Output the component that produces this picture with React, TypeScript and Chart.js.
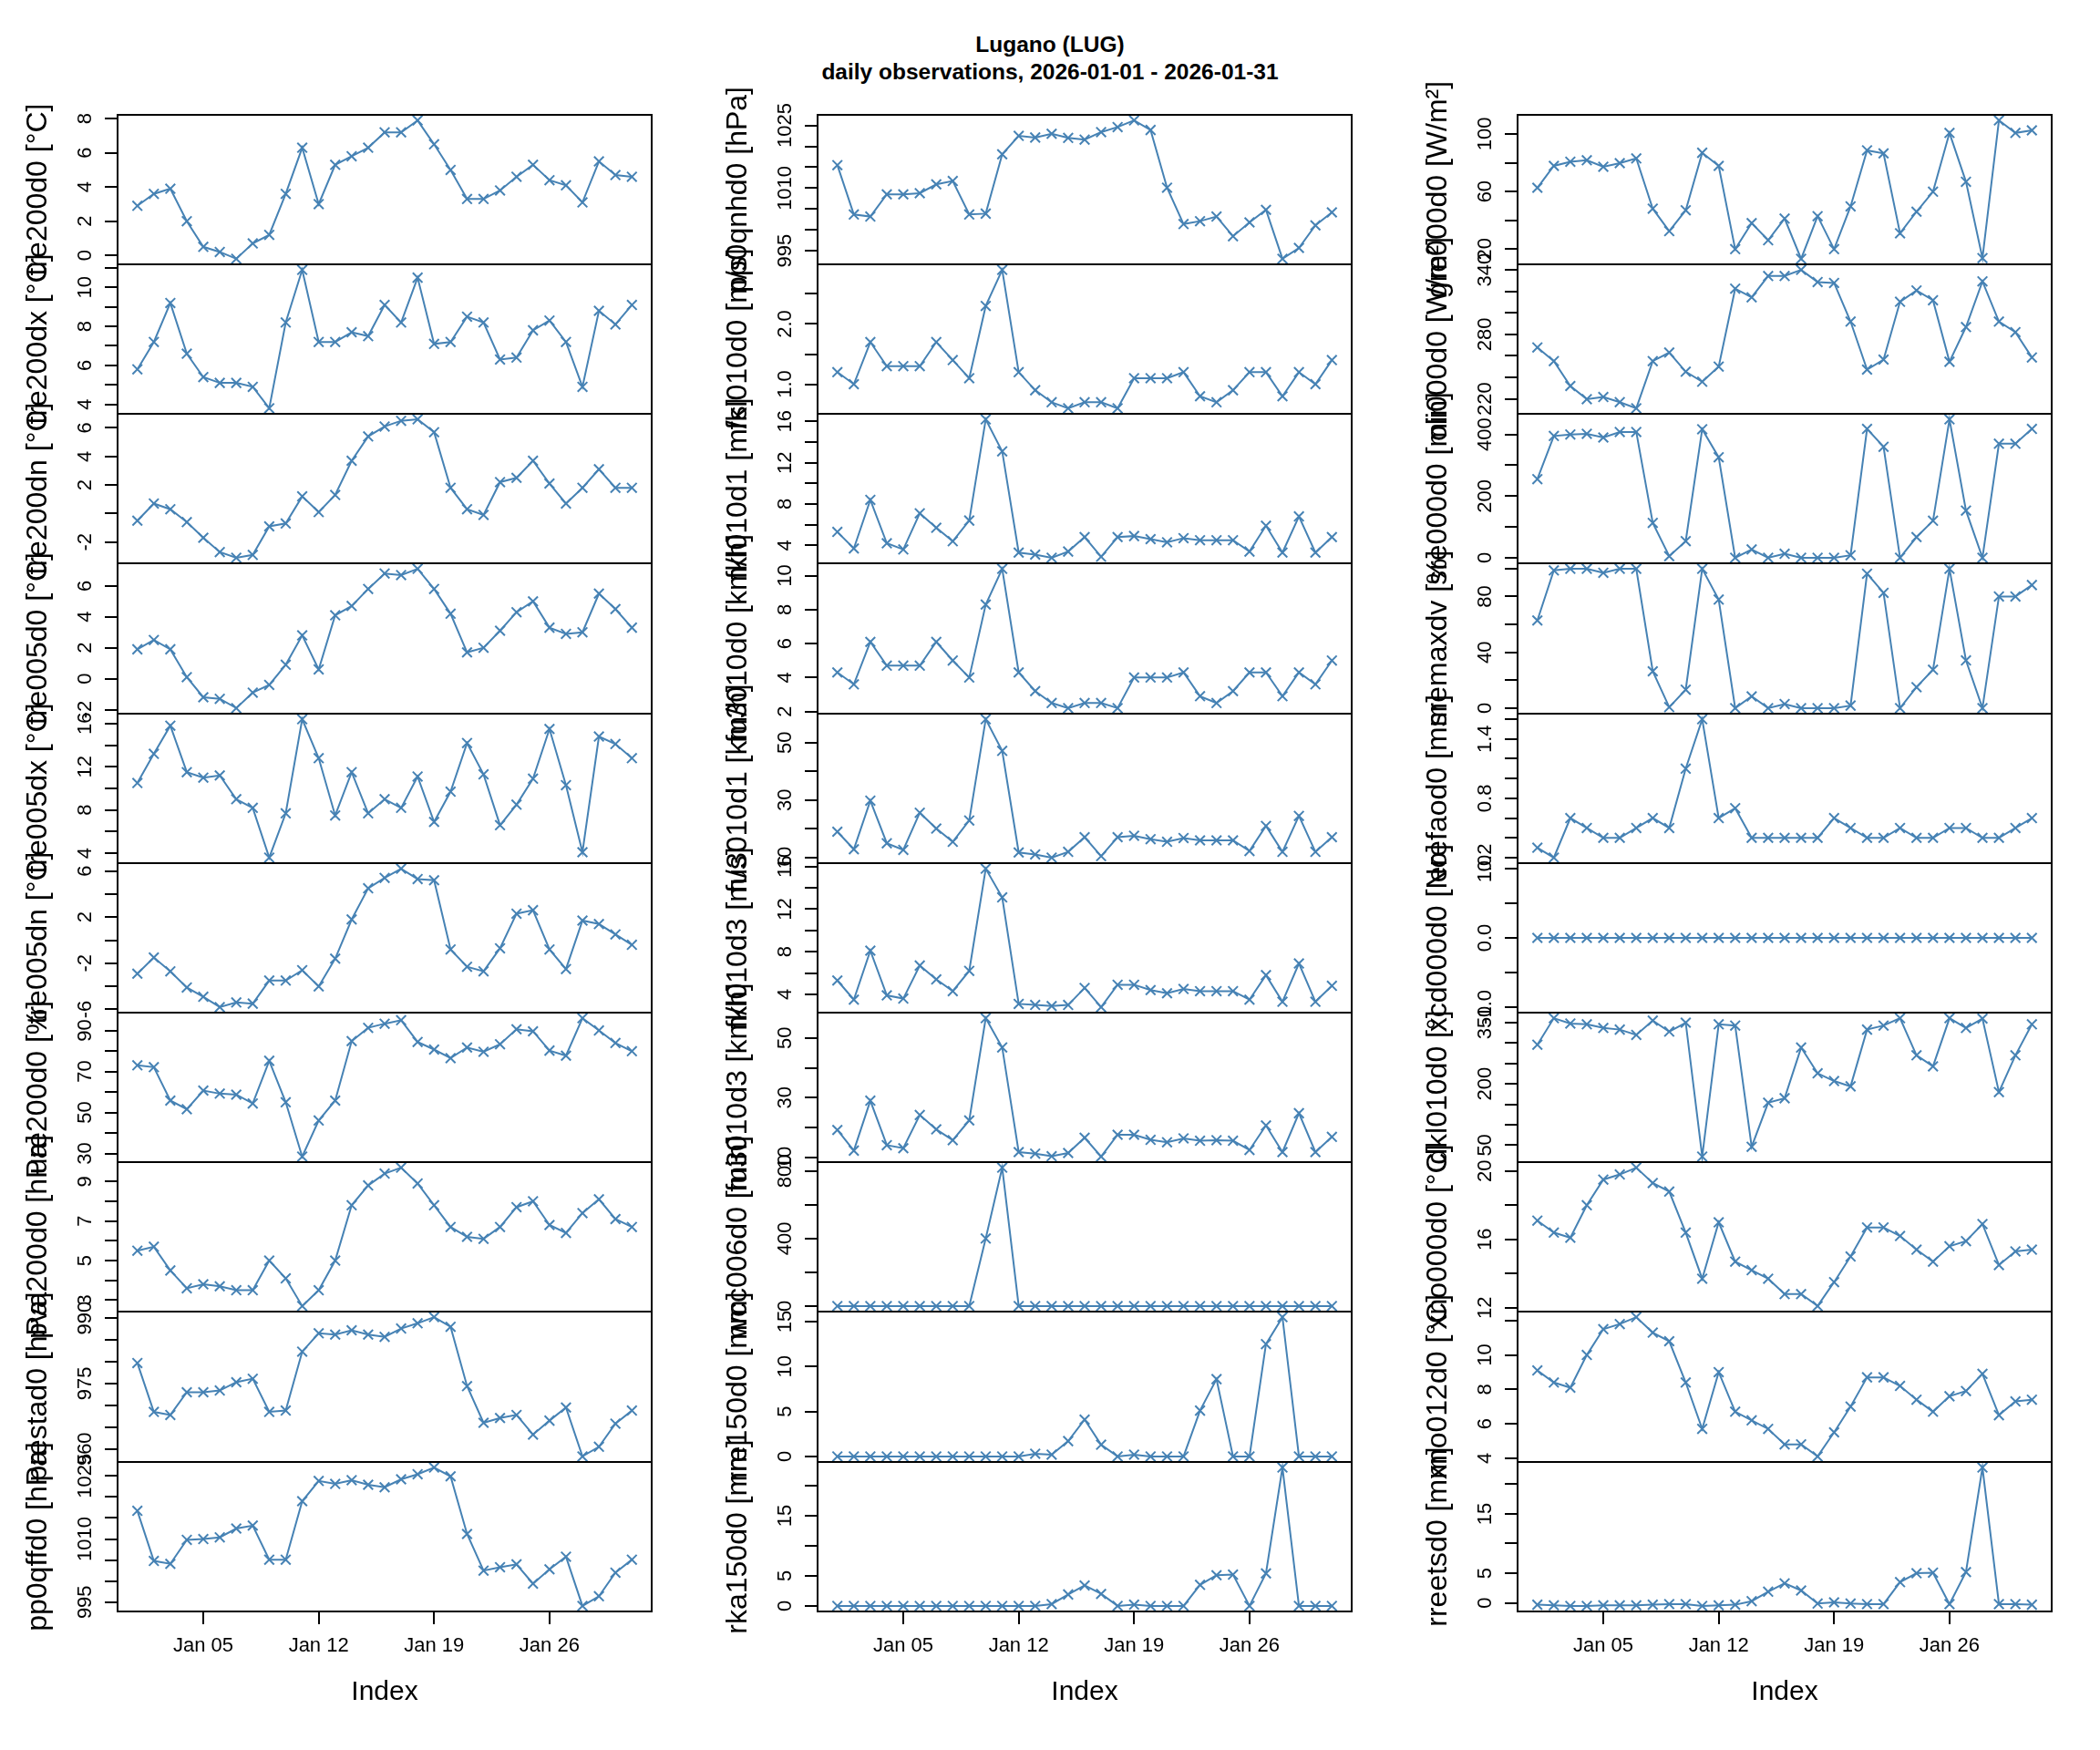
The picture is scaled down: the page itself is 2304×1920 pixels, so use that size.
import React, { useEffect, useRef } from "react";
import { Chart, registerables } from "chart.js";

Chart.register(...registerables);

const FONT = "'Liberation Sans', Arial, Helvetica, sans-serif";
const BLUE = "#4682B4";

// ---- categories (dates) ----
const DATES: string[] = [];
for (let d = 1; d <= 31; d++) DATES.push(`2026-01-${String(d).padStart(2, "0")}`);
const DAY_NUM = DATES.map((s) => Number(s.slice(8, 10)));
const X_TICKS = [5, 12, 19, 26];
const X_TICK_LABELS = ["Jan 05", "Jan 12", "Jan 19", "Jan 26"];

// ---- column 1 series ----
const tre200d0 = [2.9, 3.6, 3.9, 2.0, 0.5, 0.2, -0.2, 0.7, 1.2, 3.6, 6.3, 3.0, 5.3, 5.8, 6.3, 7.2, 7.2, 7.9, 6.5, 5.0, 3.3, 3.3, 3.8, 4.6, 5.3, 4.4, 4.1, 3.1, 5.5, 4.7, 4.6];
const tre200dx = [5.8, 7.2, 9.2, 6.6, 5.4, 5.1, 5.1, 4.9, 3.8, 8.2, 10.9, 7.2, 7.2, 7.7, 7.5, 9.1, 8.2, 10.5, 7.1, 7.2, 8.5, 8.2, 6.3, 6.4, 7.8, 8.3, 7.2, 4.9, 8.8, 8.1, 9.1];
const tre200dn = [-0.5, 0.7, 0.3, -0.6, -1.7, -2.7, -3.1, -2.9, -0.9, -0.7, 1.2, 0.1, 1.3, 3.7, 5.4, 6.1, 6.5, 6.6, 5.7, 1.8, 0.3, -0.1, 2.2, 2.5, 3.7, 2.1, 0.7, 1.8, 3.1, 1.8, 1.8];
const tre005d0 = [1.9, 2.5, 1.9, 0.1, -1.2, -1.3, -1.9, -0.9, -0.4, 0.9, 2.8, 0.6, 4.1, 4.7, 5.8, 6.8, 6.7, 7.1, 5.8, 4.2, 1.7, 2.0, 3.1, 4.3, 5.0, 3.3, 2.9, 3.0, 5.5, 4.5, 3.3];
const tre005dx = [10.5, 13.2, 15.8, 11.5, 11.0, 11.2, 9.0, 8.2, 3.6, 7.7, 16.4, 12.8, 7.5, 11.5, 7.7, 9.0, 8.2, 11.1, 6.9, 9.7, 14.2, 11.3, 6.6, 8.5, 10.9, 15.5, 10.3, 4.1, 14.8, 14.1, 12.8];
const tre005dn = [-2.9, -1.5, -2.7, -4.1, -4.9, -5.8, -5.4, -5.5, -3.5, -3.5, -2.6, -4.0, -1.6, 1.8, 4.5, 5.4, 6.2, 5.3, 5.2, -0.8, -2.3, -2.7, -0.7, 2.3, 2.6, -0.8, -2.5, 1.7, 1.4, 0.5, -0.4];
const ure200d0 = [73.0, 72.1, 55.8, 51.6, 60.7, 59.2, 58.7, 54.4, 75.2, 55.0, 28.5, 46.1, 55.8, 84.8, 91.3, 93.3, 95.0, 84.4, 80.7, 76.5, 81.7, 79.6, 83.3, 90.6, 89.6, 80.2, 77.7, 96.0, 90.0, 83.9, 79.9];
const pva200d0 = [5.5, 5.7, 4.5, 3.6, 3.8, 3.7, 3.5, 3.5, 5.0, 4.1, 2.7, 3.5, 5.0, 7.8, 8.8, 9.4, 9.7, 8.9, 7.8, 6.7, 6.2, 6.1, 6.7, 7.7, 8.0, 6.8, 6.4, 7.4, 8.1, 7.1, 6.7];
const prestad0 = [979.7, 968.5, 967.8, 973.0, 973.0, 973.4, 975.3, 976.1, 968.5, 968.8, 982.3, 986.5, 986.2, 987.2, 986.2, 985.7, 987.6, 988.8, 990.2, 988.0, 974.4, 966.0, 967.1, 967.8, 963.3, 966.5, 969.5, 958.3, 960.5, 965.8, 968.8];
const pp0qffd0 = [1016.7, 1004.8, 1004.1, 1009.8, 1010.0, 1010.4, 1012.5, 1013.2, 1005.1, 1005.1, 1019.0, 1023.8, 1023.1, 1024.0, 1022.9, 1022.3, 1024.2, 1025.4, 1027.0, 1024.9, 1011.2, 1002.5, 1003.3, 1004.0, 999.4, 1002.8, 1005.8, 994.1, 996.4, 1002.0, 1005.1];

// ---- column 2 series ----
const pp0qnhd0 = [1015.5, 1003.7, 1003.2, 1008.5, 1008.5, 1008.8, 1010.9, 1011.7, 1003.7, 1003.9, 1018.1, 1022.5, 1022.1, 1023.0, 1022.0, 1021.6, 1023.4, 1024.6, 1026.2, 1023.9, 1010.1, 1001.4, 1002.1, 1003.2, 998.5, 1001.8, 1004.8, 993.1, 995.7, 1001.1, 1004.2];
const fkl010d0 = [1.2, 1.0, 1.7, 1.3, 1.3, 1.3, 1.7, 1.4, 1.1, 2.3, 2.9, 1.2, 0.9, 0.7, 0.6, 0.7, 0.7, 0.6, 1.1, 1.1, 1.1, 1.2, 0.8, 0.7, 0.9, 1.2, 1.2, 0.8, 1.2, 1.0, 1.4];
const fkl010d1 = [5.3, 3.7, 8.4, 4.2, 3.6, 7.1, 5.7, 4.4, 6.4, 16.2, 13.1, 3.3, 3.1, 2.8, 3.4, 4.8, 2.9, 4.8, 4.9, 4.6, 4.3, 4.7, 4.5, 4.5, 4.5, 3.4, 5.9, 3.3, 6.8, 3.3, 4.8];
const fu3010d0 = [4.3, 3.6, 6.1, 4.7, 4.7, 4.7, 6.1, 5.0, 4.0, 8.3, 10.4, 4.3, 3.2, 2.5, 2.2, 2.5, 2.5, 2.2, 4.0, 4.0, 4.0, 4.3, 2.9, 2.5, 3.2, 4.3, 4.3, 2.9, 4.3, 3.6, 5.0];
const fu3010d1 = [19.0, 12.9, 29.8, 15.0, 12.7, 25.6, 20.1, 15.5, 22.9, 58.1, 47.1, 11.8, 11.1, 10.0, 12.0, 17.1, 10.5, 17.1, 17.6, 16.4, 15.5, 16.8, 16.0, 16.0, 16.0, 12.3, 21.0, 12.0, 24.5, 12.0, 17.1];
const fkl010d3 = [5.3, 3.5, 8.1, 3.9, 3.6, 6.7, 5.4, 4.3, 6.2, 15.8, 13.1, 3.1, 3.0, 2.9, 3.0, 4.6, 2.8, 4.9, 4.9, 4.4, 4.1, 4.5, 4.3, 4.3, 4.3, 3.5, 5.8, 3.3, 6.9, 3.3, 4.8];
const fu3010d3 = [19.2, 12.3, 29.0, 14.1, 13.1, 24.2, 19.4, 15.8, 22.4, 56.6, 46.8, 11.8, 11.3, 10.4, 11.5, 16.6, 10.3, 17.6, 17.6, 15.9, 15.1, 16.4, 15.6, 15.8, 15.6, 12.5, 20.7, 11.8, 24.8, 11.8, 16.9];
const wcc006d0 = [0, 0, 0, 0, 0, 0, 0, 0, 0, 400, 820, 0, 0, 0, 0, 0, 0, 0, 0, 0, 0, 0, 0, 0, 0, 0, 0, 0, 0, 0, 0];
const rre150d0 = [0, 0, 0, 0, 0, 0, 0, 0, 0, 0, 0, 0, 0.3, 0.2, 1.7, 4.1, 1.3, 0, 0.2, 0, 0, 0, 5.1, 8.6, 0, 0, 12.5, 15.5, 0, 0, 0];
const rka150d0 = [0, 0, 0, 0, 0, 0, 0, 0, 0, 0, 0, 0, 0, 0.3, 1.9, 3.4, 2.0, 0, 0.2, 0, 0, 0, 3.5, 5.1, 5.2, 0, 5.4, 23.0, 0, 0, 0];

// ---- column 3 series ----
const gre000d0 = [62.6, 77.8, 80.7, 81.7, 77.2, 79.7, 83.0, 48.1, 32.5, 47.0, 86.9, 77.8, 20.0, 38.1, 26.2, 41.2, 13.3, 42.9, 20.0, 49.7, 88.6, 86.5, 31.0, 46.0, 59.9, 100.7, 66.8, 13.8, 109.4, 100.7, 102.5];
const oli000d0 = [267.8, 255.1, 231.9, 219.7, 221.7, 216.9, 211.2, 255.1, 263.0, 245.2, 235.9, 250.0, 322.5, 314.5, 334.3, 334.3, 340.0, 328.7, 327.8, 291.9, 247.2, 256.5, 310.3, 320.8, 311.7, 254.5, 286.8, 329.3, 291.9, 282.0, 258.5];
const sre000d0 = [255, 395, 400, 402, 390, 408, 408, 113, 5, 54, 417, 326, 0, 27, 0, 13, 0, 0, 0, 8, 418, 360, 0, 67, 120, 449, 153, 0, 370, 370, 418];
const sremaxdv = [62.8, 98.7, 99.8, 99.8, 97.0, 99.8, 99.8, 26.4, 0.7, 13.2, 99.8, 77.8, 0, 8.4, 0, 2.9, 0, 0, 0, 1.8, 96.3, 82.6, 0, 15.0, 27.5, 99.8, 34.2, 0, 80.0, 80.0, 88.2];
const erefaod0 = [0.3, 0.2, 0.6, 0.5, 0.4, 0.4, 0.5, 0.6, 0.5, 1.1, 1.6, 0.6, 0.7, 0.4, 0.4, 0.4, 0.4, 0.4, 0.6, 0.5, 0.4, 0.4, 0.5, 0.4, 0.4, 0.5, 0.5, 0.4, 0.4, 0.5, 0.6];
const xcd000d0 = [0, 0, 0, 0, 0, 0, 0, 0, 0, 0, 0, 0, 0, 0, 0, 0, 0, 0, 0, 0, 0, 0, 0, 0, 0, 0, 0, 0, 0, 0, 0];
const dkl010d0 = [296, 361, 348, 346, 337, 333, 320, 355, 328, 350, 22, 346, 343, 46, 154, 165, 289, 226, 207, 194, 333, 343, 361, 270, 243, 361, 337, 360, 180, 270, 346];
const xno000d0 = [17.1, 16.4, 16.1, 18.0, 19.5, 19.8, 20.2, 19.3, 18.8, 16.4, 13.7, 17.0, 14.7, 14.2, 13.7, 12.8, 12.8, 12.1, 13.5, 15.0, 16.7, 16.7, 16.2, 15.4, 14.7, 15.6, 15.9, 16.9, 14.5, 15.3, 15.4];
const xno012d0 = [9.1, 8.4, 8.1, 10.0, 11.5, 11.8, 12.2, 11.3, 10.8, 8.4, 5.7, 9.0, 6.7, 6.2, 5.7, 4.8, 4.8, 4.1, 5.5, 7.0, 8.7, 8.7, 8.2, 7.4, 6.7, 7.6, 7.9, 8.9, 6.5, 7.3, 7.4];
const rreetsd0 = [-0.3, -0.4, -0.5, -0.5, -0.4, -0.4, -0.4, -0.3, -0.2, -0.2, -0.5, -0.4, -0.3, 0.3, 1.9, 3.3, 2.1, -0.1, 0.1, -0.1, -0.2, -0.2, 3.5, 5.0, 5.1, -0.2, 5.2, 22.8, -0.2, -0.2, -0.3];

// ---- y tick marks and labelled ticks ----
const TK_tre200d0 = [0, 2, 4, 6, 8], LB_tre200d0 = [0, 2, 4, 6, 8];
const TK_tre200dx = [4, 5, 6, 7, 8, 9, 10, 11], LB_tre200dx = [4, 6, 8, 10];
const TK_tre200dn = [-2, 0, 2, 4, 6], LB_tre200dn = [-2, 2, 4, 6];
const TK_tre005d0 = [-2, 0, 2, 4, 6], LB_tre005d0 = [-2, 0, 2, 4, 6];
const TK_tre005dx = [4, 6, 8, 10, 12, 14, 16], LB_tre005dx = [4, 8, 12, 16];
const TK_tre005dn = [-6, -4, -2, 0, 2, 4, 6], LB_tre005dn = [-6, -2, 2, 6];
const TK_ure200d0 = [30, 40, 50, 60, 70, 80, 90], LB_ure200d0 = [30, 50, 70, 90];
const TK_pva200d0 = [3, 4, 5, 6, 7, 8, 9], LB_pva200d0 = [3, 5, 7, 9];
const TK_prestad0 = [960, 965, 970, 975, 980, 985, 990], LB_prestad0 = [960, 975, 990];
const TK_pp0qffd0 = [995, 1000, 1005, 1010, 1015, 1020, 1025], LB_pp0qffd0 = [995, 1010, 1025];
const TK_pp0qnhd0 = [995, 1000, 1005, 1010, 1015, 1020, 1025], LB_pp0qnhd0 = [995, 1010, 1025];
const TK_fkl010d0 = [1.0, 1.5, 2.0, 2.5], LB_fkl010d0 = [1.0, 2.0];
const TK_fkl010d1 = [4, 6, 8, 10, 12, 14, 16], LB_fkl010d1 = [4, 8, 12, 16];
const TK_fu3010d0 = [2, 4, 6, 8, 10], LB_fu3010d0 = [2, 4, 6, 8, 10];
const TK_fu3010d1 = [10, 20, 30, 40, 50], LB_fu3010d1 = [10, 30, 50];
const TK_fkl010d3 = [4, 6, 8, 10, 12, 14, 16], LB_fkl010d3 = [4, 8, 12, 16];
const TK_fu3010d3 = [10, 20, 30, 40, 50], LB_fu3010d3 = [10, 30, 50];
const TK_wcc006d0 = [0, 200, 400, 600, 800], LB_wcc006d0 = [0, 400, 800];
const TK_rre150d0 = [0, 5, 10, 15], LB_rre150d0 = [0, 5, 10, 15];
const TK_rka150d0 = [0, 5, 10, 15, 20], LB_rka150d0 = [0, 5, 15];
const TK_gre000d0 = [20, 40, 60, 80, 100], LB_gre000d0 = [20, 60, 100];
const TK_oli000d0 = [220, 240, 260, 280, 300, 320, 340], LB_oli000d0 = [220, 280, 340];
const TK_sre000d0 = [0, 100, 200, 300, 400], LB_sre000d0 = [0, 200, 400];
const TK_sremaxdv = [0, 20, 40, 60, 80, 100], LB_sremaxdv = [0, 40, 80];
const TK_erefaod0 = [0.2, 0.4, 0.6, 0.8, 1.0, 1.2, 1.4, 1.6], LB_erefaod0 = [0.2, 0.8, 1.4];
const TK_xcd000d0 = [-1, -0.5, 0, 0.5, 1], LB_xcd000d0 = [-1, 0, 1];
const TK_dkl010d0 = [50, 100, 150, 200, 250, 300, 350], LB_dkl010d0 = [50, 200, 350];
const TK_xno000d0 = [12, 14, 16, 18, 20], LB_xno000d0 = [12, 16, 20];
const TK_xno012d0 = [4, 6, 8, 10, 12], LB_xno012d0 = [4, 6, 8, 10];
const TK_rreetsd0 = [0, 5, 10, 15, 20], LB_rreetsd0 = [0, 5, 15];

type PanelDef = { title: string; values: number[]; ticks: number[]; labels: number[]; dec: number };

const COLUMNS: PanelDef[][] = [
  [
    { title: "tre200d0 [°C]", values: tre200d0, ticks: TK_tre200d0, labels: LB_tre200d0, dec: 0 },
    { title: "tre200dx [°C]", values: tre200dx, ticks: TK_tre200dx, labels: LB_tre200dx, dec: 0 },
    { title: "tre200dn [°C]", values: tre200dn, ticks: TK_tre200dn, labels: LB_tre200dn, dec: 0 },
    { title: "tre005d0 [°C]", values: tre005d0, ticks: TK_tre005d0, labels: LB_tre005d0, dec: 0 },
    { title: "tre005dx [°C]", values: tre005dx, ticks: TK_tre005dx, labels: LB_tre005dx, dec: 0 },
    { title: "tre005dn [°C]", values: tre005dn, ticks: TK_tre005dn, labels: LB_tre005dn, dec: 0 },
    { title: "ure200d0 [%]", values: ure200d0, ticks: TK_ure200d0, labels: LB_ure200d0, dec: 0 },
    { title: "pva200d0 [hPa]", values: pva200d0, ticks: TK_pva200d0, labels: LB_pva200d0, dec: 0 },
    { title: "prestad0 [hPa]", values: prestad0, ticks: TK_prestad0, labels: LB_prestad0, dec: 0 },
    { title: "pp0qffd0 [hPa]", values: pp0qffd0, ticks: TK_pp0qffd0, labels: LB_pp0qffd0, dec: 0 },
  ],
  [
    { title: "pp0qnhd0 [hPa]", values: pp0qnhd0, ticks: TK_pp0qnhd0, labels: LB_pp0qnhd0, dec: 0 },
    { title: "fkl010d0 [m/s]", values: fkl010d0, ticks: TK_fkl010d0, labels: LB_fkl010d0, dec: 1 },
    { title: "fkl010d1 [m/s]", values: fkl010d1, ticks: TK_fkl010d1, labels: LB_fkl010d1, dec: 0 },
    { title: "fu3010d0 [km/h]", values: fu3010d0, ticks: TK_fu3010d0, labels: LB_fu3010d0, dec: 0 },
    { title: "fu3010d1 [km/h]", values: fu3010d1, ticks: TK_fu3010d1, labels: LB_fu3010d1, dec: 0 },
    { title: "fkl010d3 [m/s]", values: fkl010d3, ticks: TK_fkl010d3, labels: LB_fkl010d3, dec: 0 },
    { title: "fu3010d3 [km/h]", values: fu3010d3, ticks: TK_fu3010d3, labels: LB_fu3010d3, dec: 0 },
    { title: "wcc006d0 [min]", values: wcc006d0, ticks: TK_wcc006d0, labels: LB_wcc006d0, dec: 0 },
    { title: "rre150d0 [mm]", values: rre150d0, ticks: TK_rre150d0, labels: LB_rre150d0, dec: 0 },
    { title: "rka150d0 [mm]", values: rka150d0, ticks: TK_rka150d0, labels: LB_rka150d0, dec: 0 },
  ],
  [
    { title: "gre000d0 [W/m²]", values: gre000d0, ticks: TK_gre000d0, labels: LB_gre000d0, dec: 0 },
    { title: "oli000d0 [W/m²]", values: oli000d0, ticks: TK_oli000d0, labels: LB_oli000d0, dec: 0 },
    { title: "sre000d0 [min]", values: sre000d0, ticks: TK_sre000d0, labels: LB_sre000d0, dec: 0 },
    { title: "sremaxdv [%]", values: sremaxdv, ticks: TK_sremaxdv, labels: LB_sremaxdv, dec: 0 },
    { title: "erefaod0 [mm]", values: erefaod0, ticks: TK_erefaod0, labels: LB_erefaod0, dec: 1 },
    { title: "xcd000d0 [No]", values: xcd000d0, ticks: TK_xcd000d0, labels: LB_xcd000d0, dec: 1 },
    { title: "dkl010d0 [°]", values: dkl010d0, ticks: TK_dkl010d0, labels: LB_dkl010d0, dec: 0 },
    { title: "xno000d0 [°C]", values: xno000d0, ticks: TK_xno000d0, labels: LB_xno000d0, dec: 0 },
    { title: "xno012d0 [°C]", values: xno012d0, ticks: TK_xno012d0, labels: LB_xno012d0, dec: 0 },
    { title: "rreetsd0 [mm]", values: rreetsd0, ticks: TK_rreetsd0, labels: LB_rreetsd0, dec: 0 },
  ],
];

// ---- layout (pixels) ----
const COL_LEFT = [129, 897, 1665];
const PLOT_W = 586;
const ROW_Y = [126, 290, 454, 618, 783, 947, 1111, 1275, 1439, 1604, 1768];
const YAXW = 125;
const RPAD = 14;
const PADV = 70;
const XAXH = 150;
const TITLE_SIZE = 32;
const TITLE_CENTER = 38.4; // from canvas left

function yRange(v: number[]): [number, number] {
  let lo = Math.min(...v);
  let hi = Math.max(...v);
  if (hi === lo) {
    lo -= 1;
    hi += 1;
  }
  const pad = (hi - lo) * 0.04;
  return [lo - pad, hi + pad];
}

function Panel({ def, col, row }: { def: PanelDef; col: number; row: number }) {
  const ref = useRef<HTMLCanvasElement | null>(null);
  const isBottom = row === 9;
  const panelH = ROW_Y[row + 1] - ROW_Y[row];
  const width = YAXW + PLOT_W + RPAD;
  const height = PADV + panelH + (isBottom ? XAXH : PADV);
  const left = COL_LEFT[col] - YAXW;
  const top = ROW_Y[row] - PADV;

  useEffect(() => {
    const canvas = ref.current;
    if (!canvas) return;
    const [ymin, ymax] = yRange(def.values);
    const eps = (ymax - ymin) * 1e-6;
    const deco = {
      id: "deco",
      afterDraw(chart: any) {
        const { ctx, chartArea: a } = chart;
        const ys = chart.scales.y;
        ctx.save();
        ctx.strokeStyle = "#000";
        ctx.lineWidth = 2;
        ctx.strokeRect(a.left, a.top, a.right - a.left, a.bottom - a.top);
        ctx.fillStyle = "#000";
        ctx.font = `22px ${FONT}`;
        ctx.textAlign = "center";
        ctx.textBaseline = "alphabetic";
        for (const v of def.labels) {
          if (v < ymin - eps || v > ymax + eps) continue;
          const py = ys.getPixelForValue(v);
          ctx.save();
          ctx.translate(a.left - 29.5, py);
          ctx.rotate(-Math.PI / 2);
          ctx.fillText(v.toFixed(def.dec), 0, 0);
          ctx.restore();
        }
        ctx.restore();
      },
    };

    const chart = new Chart(canvas, {
      type: "line",
      data: {
        datasets: [
          {
            data: DAY_NUM.map((d, i) => ({ x: d, y: def.values[i] })),
            borderColor: BLUE,
            backgroundColor: BLUE,
            borderWidth: 2,
            pointStyle: "crossRot",
            pointRadius: 7.5,
            pointBorderWidth: 2,
            pointBorderColor: BLUE,
            pointBackgroundColor: BLUE,
            tension: 0,
            fill: false,
            clip: false as any,
          },
        ],
      },
      options: {
        responsive: false,
        animation: false,
        devicePixelRatio: 1,
        events: [],
        layout: { padding: { left: 0, right: RPAD, top: PADV, bottom: isBottom ? 0 : PADV } },
        plugins: { legend: { display: false }, tooltip: { enabled: false }, title: { display: false } },
        scales: {
          x: {
            type: "linear",
            min: 1 - 1.2,
            max: 31 + 1.2,
            display: isBottom,
            afterBuildTicks: (s: any) => {
              s.ticks = X_TICKS.map((v) => ({ value: v }));
            },
            afterFit: (s: any) => {
              if (isBottom) s.height = XAXH;
            },
            grid: { display: true, drawOnChartArea: false, drawTicks: true, tickLength: 14, color: "#000", lineWidth: 2 },
            border: { display: false },
            ticks: {
              font: { size: 22, family: FONT },
              color: "#000",
              padding: 11,
              maxRotation: 0,
              minRotation: 0,
              autoSkip: false,
              callback: (v: any) => {
                const k = X_TICKS.indexOf(Number(v));
                return k >= 0 ? X_TICK_LABELS[k] : "";
              },
            },
            title: {
              display: true,
              text: "Index",
              font: { size: 30, family: FONT, lineHeight: 1.2 },
              color: "#000",
              padding: { top: 0, bottom: 43 },
            },
          },
          y: {
            type: "linear",
            position: "left",
            min: ymin,
            max: ymax,
            afterBuildTicks: (s: any) => {
              s.ticks = def.ticks.filter((v) => v >= ymin - eps && v <= ymax + eps).map((v) => ({ value: v }));
            },
            afterFit: (s: any) => {
              s.width = YAXW;
            },
            grid: { display: true, drawOnChartArea: false, drawTicks: true, tickLength: 14, color: "#000", lineWidth: 2 },
            border: { display: false },
            ticks: { display: false },
            title: {
              display: true,
              text: def.title,
              font: { size: TITLE_SIZE, family: FONT, lineHeight: 1.2 },
              color: "#000",
              padding: { top: TITLE_CENTER - (TITLE_SIZE * 1.2) / 2, bottom: 0 },
            },
          },
        },
      } as any,
      plugins: [deco],
    });
    return () => chart.destroy();
  }, []);

  return (
    <canvas
      ref={ref}
      width={width}
      height={height}
      style={{ position: "absolute", left, top, width, height }}
    />
  );
}

export default function App() {
  return (
    <div
      style={{
        position: "absolute",
        left: 0,
        top: 0,
        width: 2304,
        height: 1920,
        overflow: "hidden",
        background: "#fff",
      }}
    >
      <div
        style={{
          position: "absolute",
          left: 0,
          top: 34,
          width: 2304,
          textAlign: "center",
          fontFamily: FONT,
          fontWeight: "bold",
          fontSize: 24.5,
          lineHeight: "29.5px",
          color: "#000",
        }}
      >
        Lugano (LUG)
        <br />
        daily observations, 2026-01-01 - 2026-01-31
      </div>
      {COLUMNS.map((colDefs, c) =>
        colDefs.map((def, r) => <Panel key={`${c}-${r}`} def={def} col={c} row={r} />)
      )}
    </div>
  );
}
